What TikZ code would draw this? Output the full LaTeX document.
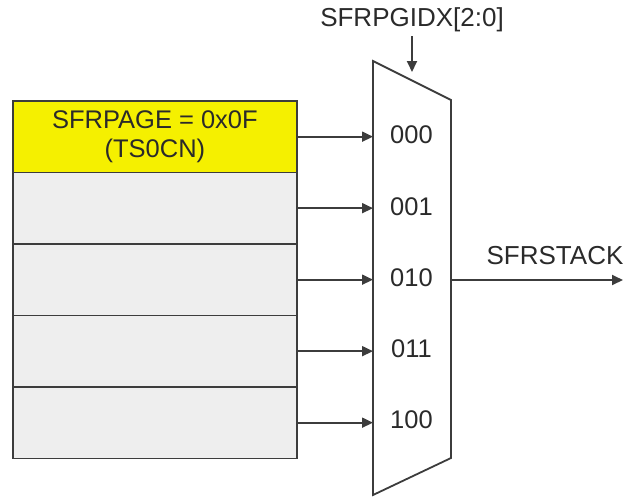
\documentclass[tikz,border=0pt]{standalone}
\usepackage{fontspec}
\setmainfont{Liberation Sans}
\usetikzlibrary{arrows.meta}
\definecolor{ln}{HTML}{3C3C3C}
\definecolor{tx}{HTML}{2A2A2A}
\definecolor{yel}{HTML}{F5F000}
\definecolor{rowgray}{HTML}{EEEEEE}
\tikzset{
  rowbox/.style={draw=ln, line width=1.8pt, minimum width=284pt, minimum height=71.5pt, inner sep=0pt, anchor=north west, text=tx, align=center, font=\fontsize{25.5}{29}\selectfont},
  lbl/.style={text=tx, inner sep=0pt, font=\fontsize{26}{30}\selectfont},
  num/.style={text=tx, inner sep=0pt, font=\fontsize{25.5}{29}\selectfont},
  conn/.style={draw=ln, line width=1.8pt, -{Triangle[length=11pt,width=10pt]}},
}
\begin{document}
\begin{tikzpicture}[x=1pt,y=-1pt]
\useasboundingbox (0,0) rectangle (626,496);
% rows
\node[rowbox, fill=yel] (r1) at (12,100) {SFRPAGE = 0x0F\\(TS0CN)};
\node[rowbox, fill=rowgray] (r2) at (12,171.5) {};
\node[rowbox, fill=rowgray] (r3) at (12,243) {};
\node[rowbox, fill=rowgray] (r4) at (12,314.5) {};
\node[rowbox, fill=rowgray] (r5) at (12,386) {};
% mux
\coordinate (mtl) at (373,61);
\coordinate (mtr) at (451,100);
\coordinate (mbr) at (451,458);
\coordinate (mbl) at (373,495);
\draw[ln, line width=1.8pt, line join=miter] (mtl) -- (mtr) -- (mbr) -- (mbl) -- cycle;
% numbers
\node[num] (n1) at (411.5,135) {000};
\node[num] (n2) at (411.5,207) {001};
\node[num] (n3) at (411.5,278) {010};
\node[num] (n4) at (411.5,349) {011};
\node[num] (n5) at (411.5,420) {100};
% input arrows
\foreach \i in {1,...,5}{
  \draw[conn] (r\i.east) -- (r\i.east -| mtl);
}
% select
\node[lbl] (sel) at (412,20) {SFRPGIDX[2:0]};
\coordinate (selend) at (412,72);
\draw[conn] (sel.south) ++(0,4) -- (selend);
% output
\coordinate (outstart) at (451,280);
\coordinate (outend) at (623,280);
\draw[conn] (outstart) -- (outend);
\node[lbl] (outl) at (555,256) {SFRSTACK};
\end{tikzpicture}
\end{document}
